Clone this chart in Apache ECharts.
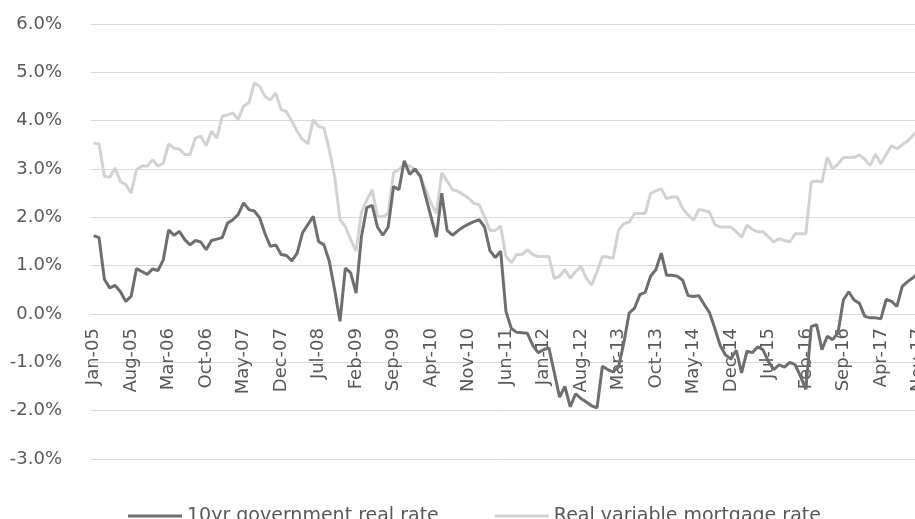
<!DOCTYPE html>
<html>
<head>
<meta charset="utf-8">
<script src="https://cdn.jsdelivr.net/npm/echarts@6/dist/echarts.min.js"></script>
<style>
  html, body { margin: 0; padding: 0; background: #fff; }
  #chart { width: 915px; height: 519px; }
</style>
</head>
<body>
<div id="chart"></div>
<script>
// monthly, Jan-05 .. Nov-17
const monthNames = ['Jan', 'Feb', 'Mar', 'Apr', 'May', 'Jun', 'Jul', 'Aug', 'Sep', 'Oct', 'Nov', 'Dec']
const years = ['05', '06', '07', '08', '09', '10', '11', '12', '13', '14', '15', '16', '17']
const months = []
years.forEach(y => monthNames.forEach(m => months.push(m + '-' + y)))
months.length = 155

const govRate = [
  1.62, 1.58, 0.72, 0.54, 0.59, 0.46, 0.26, 0.37, 0.94, 0.88, 0.82, 0.93,
  0.90, 1.12, 1.74, 1.63, 1.71, 1.54, 1.43, 1.52, 1.49, 1.33, 1.52, 1.55,
  1.58, 1.88, 1.95, 2.06, 2.30, 2.16, 2.13, 1.99, 1.66, 1.40, 1.43, 1.23,
  1.21, 1.10, 1.26, 1.68, 1.85, 2.02, 1.50, 1.43, 1.09, 0.50, -0.15, 0.95,
  0.85, 0.43, 1.60, 2.20, 2.25, 1.80, 1.63, 1.80, 2.64, 2.57, 3.17, 2.89,
  3.00, 2.85, 2.43, 2.01, 1.59, 2.50, 1.73, 1.63, 1.72, 1.80, 1.86, 1.91,
  1.95, 1.80, 1.31, 1.17, 1.30, 0.05, -0.30, -0.38, -0.39, -0.40, -0.65, -0.80,
  -0.74, -0.70, -1.20, -1.72, -1.50, -1.92, -1.65, -1.75, -1.82, -1.90, -1.94, -1.08,
  -1.15, -1.20, -1.10, -0.60, 0.02, 0.12, 0.40, 0.45, 0.78, 0.92, 1.26, 0.80,
  0.80, 0.78, 0.70, 0.38, 0.36, 0.38, 0.20, 0.03, -0.30, -0.65, -0.85, -0.93,
  -0.75, -1.22, -0.77, -0.80, -0.68, -0.74, -0.98, -1.15, -1.05, -1.10, -1.00, -1.05,
  -1.29, -1.56, -0.26, -0.22, -0.74, -0.46, -0.53, -0.39, 0.29, 0.46, 0.29, 0.22,
  -0.05, -0.08, -0.08, -0.10, 0.30, 0.26, 0.16, 0.57, 0.67, 0.75, 0.85
]

const mortgageRate = [
  3.54, 3.52, 2.85, 2.83, 3.02, 2.74, 2.68, 2.50, 2.99, 3.06, 3.06, 3.19,
  3.06, 3.12, 3.52, 3.43, 3.41, 3.30, 3.30, 3.64, 3.68, 3.48, 3.78, 3.64,
  4.09, 4.12, 4.16, 4.03, 4.30, 4.37, 4.78, 4.71, 4.50, 4.43, 4.57, 4.23,
  4.19, 3.99, 3.78, 3.61, 3.52, 4.02, 3.88, 3.85, 3.40, 2.85, 1.95, 1.81,
  1.54, 1.30, 2.10, 2.36, 2.57, 2.01, 2.01, 2.08, 2.92, 2.99, 3.10, 3.06,
  2.99, 2.85, 2.57, 2.29, 2.08, 2.92, 2.75, 2.57, 2.54, 2.47, 2.40, 2.29,
  2.26, 2.01, 1.73, 1.73, 1.82, 1.19, 1.06, 1.23, 1.23, 1.33, 1.23, 1.19,
  1.19, 1.19, 0.74, 0.78, 0.92, 0.74, 0.88, 0.99, 0.74, 0.60, 0.88, 1.19,
  1.18, 1.15, 1.73, 1.87, 1.90, 2.08, 2.08, 2.08, 2.49, 2.55, 2.59, 2.39,
  2.42, 2.42, 2.18, 2.05, 1.94, 2.16, 2.14, 2.11, 1.85, 1.80, 1.80, 1.80,
  1.70, 1.59, 1.84, 1.75, 1.70, 1.70, 1.60, 1.49, 1.56, 1.52, 1.49, 1.66,
  1.66, 1.66, 2.73, 2.75, 2.73, 3.24, 3.00, 3.10, 3.24, 3.24, 3.24, 3.29,
  3.20, 3.07, 3.31, 3.11, 3.30, 3.48, 3.42, 3.50, 3.58, 3.70, 3.80
]

const textColor = '#595959'
const gridColor = '#d9d9d9'
const font = 'DejaVu Sans'

const chart = echarts.init(document.getElementById('chart'))
chart.setOption({
  animation: false,
  grid: { left: 91, right: -6, top: 24, bottom: 60, outerBoundsMode: 'none' },
  legend: {
    data: ['10yr government real rate', 'Real variable mortgage rate'],
    left: 123, top: 501,
    icon: 'rect', itemWidth: 54, itemHeight: 3, itemGap: 56,
    textStyle: { color: textColor, fontSize: 19, fontFamily: font, lineHeight: 20 }
  },
  xAxis: {
    type: 'category', data: months,
    position: 'bottom', offset: -145, // category axis sits on the 0% line
    axisLine: { onZero: false, lineStyle: { color: gridColor } },
    axisTick: { show: false },
    axisLabel: { interval: 6, rotate: 90, margin: 14, color: textColor, fontSize: 18, fontFamily: font }
  },
  yAxis: {
    type: 'value', min: -3, max: 6, interval: 1,
    axisLine: { show: false },
    axisTick: { show: false },
    splitLine: { lineStyle: { color: gridColor, width: 1 } },
    axisLabel: { margin: 29, color: textColor, fontSize: 18, fontFamily: font, formatter: v => v.toFixed(1) + '%' }
  },
  series: [
    {
      name: 'Real variable mortgage rate', type: 'line', data: mortgageRate,
      showSymbol: false, lineStyle: { color: '#d2d2d2', width: 3 }, itemStyle: { color: '#d2d2d2' }
    },
    {
      name: '10yr government real rate', type: 'line', data: govRate,
      showSymbol: false, lineStyle: { color: '#6e6e6e', width: 3 }, itemStyle: { color: '#6e6e6e' }
    }
  ]
})
</script>
</body>
</html>
